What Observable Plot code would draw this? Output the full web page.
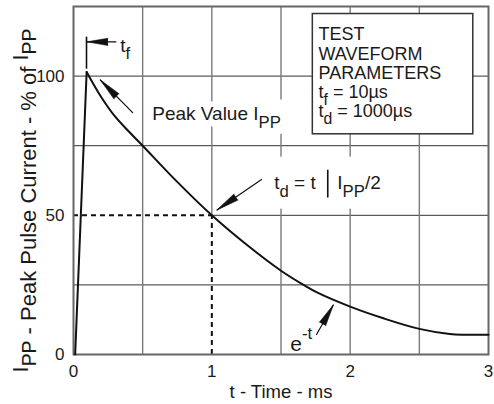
<!DOCTYPE html>
<html><head><meta charset="utf-8">
<script src="https://cdn.jsdelivr.net/npm/d3@7"></script>
<script src="https://cdn.jsdelivr.net/npm/@observablehq/plot@0.6"></script>
<style>html,body{margin:0;padding:0;background:#fff}</style>
</head><body><div id="chart"></div>
<script>
// ---- data (time in ms, current in % of Ipp) ----
const riseT = [0.012, 0.095];
const riseI = [0, 101.5];
const decayT = [0.095, 0.2, 0.3, 0.4, 0.5, 0.75, 1, 1.25, 1.5, 1.663, 1.76, 2, 2.24, 2.5, 2.72, 3];
const decayI = [101.5, 92.5, 85.5, 80.1, 75, 62, 50, 39.5, 30.1, 25, 22.3, 17.2, 13, 9.2, 7.4, 7.1];
const xTicks = [0, 1, 2, 3];
const yTicks = [0, 50, 100];
const hGridY = [25, 50, 75, 100];
const hGridFrom = [0, 1, 0, 0];
const vGridX = [0.5, 1, 1.5, 2, 2.5];
const vGridFrom = [0, 50, 0, 0, 0];
const halfT = 1, halfI = 50;

const xLabel = "t - Time - ms";
const yLabel = "!{I}~{PP} - Peak Pulse Current - % of !{I}~{PP}";
const boxLines = ["TEST", "WAVEFORM", "PARAMETERS", "t_{f} = 10µs", "t_{d} = 1000µs"];
const boxLineT = 1.771;
const boxLineI = [112.9, 105.9, 98.9, 92.1, 85.3];
const box = {x1: 1.73, x2: 2.89, y1: 79.1, y2: 122.3};

const noteText = ["t_{f}", "Peak Value I_{PP}", "t_{d} = t", "I_{PP}/2"];
const noteT = [0.338, 0.569, 1.451, 1.907];
const noteI = [108.8, 84.2, 59.4, 59.4];
const expText = "e^{-t}";
const expT = 1.567, expI = 1.4;

const bgT1 = [0.540, 1.285, 1.393];
const bgT2 = [1.285, 1.581, 2.304];
const bgI1 = [81.7, 79.1, 52.2];
const bgI2 = [90.7, 91.4, 70.9];

const ruleT = [0.094, 1.838];
const ruleI1 = [102.5, 56.2];
const ruleI2 = [114, 66.2];

const arrowT = [0.097, 0.194, 1.037, 1.878];
const arrowI = [112.3, 98.6, 51.9, 17.8];
const arrowAngle = [-90, -44.7, -124.3, 29.5];
const arrowLen = [29, 46, 54, 34];
const arrowHead = [21, 23, 23, 22];

// ---- tables built from arrays ----
const rise = riseT.map((t, i) => ({t, v: riseI[i]}));
const decay = decayT.map((t, i) => ({t, v: decayI[i]}));
const hGrid = hGridY.map((y, i) => ({y, x1: hGridFrom[i], x2: 3}));
const vGrid = vGridX.map((x, i) => ({x, y1: vGridFrom[i], y2: 125}));
const notes = noteText.map((text, i) => ({text, t: noteT[i], v: noteI[i]}));
const boxRows = boxLines.map((text, i) => ({text, t: boxLineT, v: boxLineI[i]}));
const bgs = bgT1.map((t1, i) => ({t1, t2: bgT2[i], v1: bgI1[i], v2: bgI2[i]}));
const rules = ruleT.map((t, i) => ({t, v1: ruleI1[i], v2: ruleI2[i]}));
const arrows = arrowT.map((t, i) => ({t, v: arrowI[i], a: arrowAngle[i], len: arrowLen[i], head: arrowHead[i]}));

const font = "'Liberation Sans', Arial, Helvetica, sans-serif";
const shaft = {draw(ctx, l) { ctx.moveTo(0, 0); ctx.lineTo(0, -l); }};

const chart = Plot.plot({
  width: 494, height: 404,
  marginLeft: 73, marginRight: 6, marginTop: 6, marginBottom: 50,
  style: {fontFamily: font, background: "#fff", color: "#1a1a1a"},
  x: {domain: [0, 3]},
  y: {domain: [0, 125]},
  length: {domain: [0, 100], range: [0, 100]},
  marks: [
    Plot.ruleY(hGrid, {y: "y", x1: "x1", x2: "x2", stroke: "#333", strokeWidth: 1}),
    Plot.ruleX(vGrid, {x: "x", y1: "y1", y2: "y2", stroke: "#7a7a7a", strokeWidth: 1.4}),
    Plot.ruleY([halfI], {x1: 0, x2: halfT, y: d => d, stroke: "#111", strokeWidth: 2, strokeDasharray: "5,4"}),
    Plot.ruleX([halfT], {x: d => d, y1: 0, y2: halfI, stroke: "#111", strokeWidth: 2, strokeDasharray: "5,4"}),
    Plot.rect(bgs, {x1: "t1", x2: "t2", y1: "v1", y2: "v2", fill: "#fff"}),
    Plot.rect([box], {x1: "x1", x2: "x2", y1: "y1", y2: "y2", fill: "#fff", stroke: "#333", strokeWidth: 1.5}),
    Plot.frame({stroke: "#666", strokeWidth: 2}),
    Plot.line(rise, {x: "t", y: "v", stroke: "#111", strokeWidth: 2}),
    Plot.line(decay, {x: "t", y: "v", curve: "catmull-rom", stroke: "#111", strokeWidth: 2}),
    Plot.ruleX(rules, {x: "t", y1: "v1", y2: "v2", stroke: "#111", strokeWidth: 1.6}),
    Plot.vector(arrows, {x: "t", y: "v", rotate: "a", length: "len", anchor: "end", shape: shaft, stroke: "#111", strokeWidth: 1.2}),
    Plot.vector(arrows, {x: "t", y: "v", rotate: "a", length: "head", anchor: "end", shape: "spike", r: 3.6, fill: "#111", stroke: "#111", strokeWidth: 0.6}),
    Plot.text(notes, {x: "t", y: "v", text: "text", fontSize: 19, textAnchor: "start", lineAnchor: "bottom", fill: "#1a1a1a"}),
    Plot.text([expText], {x: expT, y: expI, text: d => d, fontSize: 21, textAnchor: "start", lineAnchor: "bottom", fill: "#1a1a1a"}),
    Plot.text(boxRows, {x: "t", y: "v", text: "text", fontSize: 18, textAnchor: "start", lineAnchor: "bottom", fill: "#1a1a1a"}),
    Plot.axisX({ticks: xTicks, tickFormat: d3.format("d"), tickSize: 0, tickPadding: 10, fontSize: 17, label: null}),
    Plot.axisY({ticks: yTicks, tickFormat: d3.format("d"), tickSize: 0, tickPadding: 9, fontSize: 17, label: null}),
    Plot.text([xLabel], {frameAnchor: "bottom", text: d => d, dy: 43, fontSize: 18.5, textAnchor: "middle", lineAnchor: "bottom"}),
    Plot.text([yLabel], {frameAnchor: "left", text: d => d, rotate: -90, dx: -38, dy: 20, fontSize: 22, textAnchor: "middle", lineAnchor: "bottom"})
  ]
});

// rich text: _{sub}  ^{sup}  !{raised}  ~{small}
function applyRich(svg) {
  svg.querySelectorAll("text").forEach(el => {
    const s = el.textContent;
    if (!/[_^!~]\{/.test(s)) return;
    const fsEl = el.closest("[font-size]");
    const fs = parseFloat(fsEl ? fsEl.getAttribute("font-size") : 12) || 12;
    const parts = [];
    const re = /([_^!~])\{([^}]*)\}/g;
    let last = 0, m;
    while ((m = re.exec(s))) {
      if (m.index > last) parts.push(["", s.slice(last, m.index)]);
      parts.push([m[1], m[2]]);
      last = re.lastIndex;
    }
    if (last < s.length) parts.push(["", s.slice(last)]);
    el.textContent = "";
    let shift = 0;
    for (const [k, t] of parts) {
      const target = k === "_" ? fs * 0.4 : k === "^" ? -fs * 0.55 : k === "!" ? -fs * 0.36 : 0;
      const size = (k === "_" || k === "~") ? fs * 0.88 : (k === "^" ? fs * 0.8 : fs);
      const ts = document.createElementNS("http://www.w3.org/2000/svg", "tspan");
      ts.setAttribute("dy", (target - shift).toFixed(2));
      ts.setAttribute("font-size", size.toFixed(2));
      ts.textContent = t;
      el.appendChild(ts);
      shift = target;
    }
  });
}
applyRich(chart);
document.getElementById("chart").appendChild(chart);
</script>
</body></html>
